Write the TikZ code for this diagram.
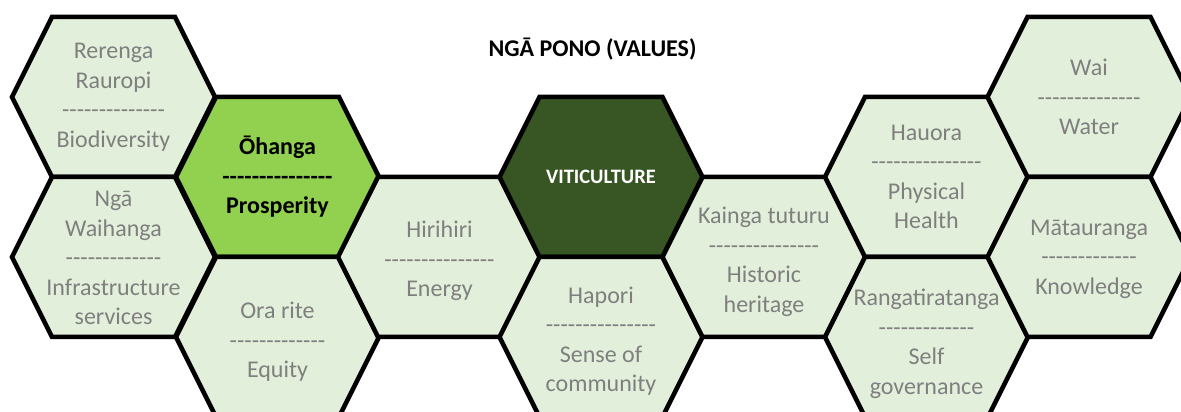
\documentclass[tikz,border=0pt]{standalone}
\usepackage{fontspec}
\setmainfont{Carlito}[Ligatures=TeXOff]
\definecolor{cellgreen}{HTML}{E2EFDA}
\definecolor{keygreen}{HTML}{92D050}
\definecolor{vinegreen}{HTML}{375623}
\definecolor{valuegray}{HTML}{7F7F7F}
\newcommand{\hexcell}[5][]{%
  \filldraw[cellline, fill=#3] (#2) ++(-101.5,0) -- ++(40,80) -- ++(123,0) -- ++(40,-80) -- ++(-40,-80) -- ++(-123,0) -- cycle;
  \node[celltext, #1] (#4) at (#2) {#5};
}
\begin{document}
\begin{tikzpicture}[x=1pt, y=1pt,
  cellline/.style={draw=black, line width=4.5pt},
  celltext/.style={align=center, inner sep=0pt, text=valuegray, font=\fontsize{24}{29.5}\selectfont}]
\useasboundingbox (0,0) rectangle (1181,412);
\clip (0,0) rectangle (1181,412);
\hexcell{113.5,315}{cellgreen}{rerenga}{Rerenga\\Rauropi\\--------------\\Biodiversity}
\hexcell[yshift=-1]{113.5,155}{cellgreen}{waihanga}{Ngā\\Waihanga\\-------------\\Infrastructure\\services}
\hexcell[text=black, font=\fontsize{24}{29.5}\selectfont\bfseries]{277.5,235}{keygreen}{ohanga}{Ōhanga\\---------------\\Prosperity}
\hexcell[yshift=-5]{277.5,75}{cellgreen}{orarite}{Ora rite\\-------------\\Equity}
\hexcell[yshift=-4]{439.5,155}{cellgreen}{hirihiri}{Hirihiri\\---------------\\Energy}
\hexcell[text=white, font=\fontsize{20.5}{25}\selectfont\bfseries]{601,235}{vinegreen}{viticulture}{VITICULTURE}
\hexcell[yshift=-4]{601,75}{cellgreen}{hapori}{Hapori\\---------------\\Sense of\\community}
\hexcell[yshift=-5]{764,155}{cellgreen}{kainga}{Kainga tuturu\\---------------\\Historic\\heritage}
\hexcell{926.5,235}{cellgreen}{hauora}{Hauora\\---------------\\Physical\\Health}
\hexcell[yshift=-7]{926.5,75}{cellgreen}{rangatiratanga}{Rangatiratanga\\-------------\\Self\\governance}
\hexcell{1089,315}{cellgreen}{wai}{Wai\\--------------\\Water}
\hexcell[yshift=-2]{1089,155}{cellgreen}{matauranga}{Mātauranga\\-------------\\Knowledge}
\node[anchor=base, font=\fontsize{24}{29}\selectfont\bfseries] (title) at (592.5,355) {NGĀ PONO (VALUES)};
\end{tikzpicture}
\end{document}
